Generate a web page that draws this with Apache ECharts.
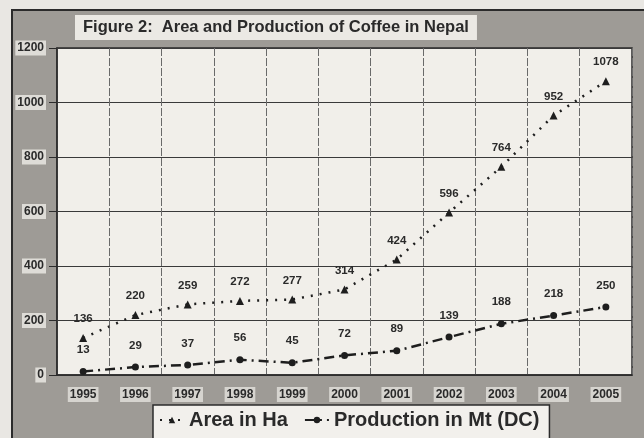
<!DOCTYPE html>
<html>
<head>
<meta charset="utf-8">
<script src="https://cdn.jsdelivr.net/npm/echarts@6/dist/echarts.min.js"></script>
<style>
  html, body { margin: 0; padding: 0; background: #e9e7e3; }
  #chart { width: 644px; height: 438px; }
</style>
</head>
<body>
<div id="chart"></div>
<script>
// years on the x axis
var years = ['1995', '1996', '1997', '1998', '1999', '2000', '2001', '2002', '2003', '2004', '2005'];
// area in hectares
var areaHa = [136, 220, 259, 272, 277, 314, 424, 596, 764, 952, 1078];
// production in metric tons (dry cherry)
var productionMt = [13, 29, 37, 56, 45, 72, 89, 139, 188, 218, 250];

var chart = echarts.init(document.getElementById('chart'));

var boldFont = 'Liberation Sans, Arial, sans-serif';

var option = {
  backgroundColor: '#e9e7e3',
  animation: false,
  graphic: [
    {
      // grey frame round the figure
      type: 'rect',
      z: -10,
      shape: { x: 12, y: 10, width: 640, height: 440 },
      style: { fill: '#9e9b96', stroke: '#2b2b2b', lineWidth: 2 }
    }
  ],
  title: {
    text: 'Figure 2:  Area and Production of Coffee in Nepal',
    left: 75,
    top: 15,
    backgroundColor: '#ebe9e4',
    padding: [4, 8, 4, 8],
    textStyle: {
      fontFamily: boldFont,
      fontSize: 16.5,
      fontWeight: 'bold',
      color: '#2a2a2a'
    }
  },
  legend: {
    left: 153,
    top: 405,
    backgroundColor: '#f2f0ec',
    borderColor: '#2b2b2b',
    borderWidth: 1.5,
    padding: [5, 10, 10, 6],
    itemGap: 16,
    itemWidth: 24,
    itemHeight: 8,
    textStyle: {
      fontFamily: boldFont,
      fontSize: 20,
      fontWeight: 'bold',
      color: '#2a2a2a'
    },
    data: ['Area in Ha', 'Production in Mt (DC)']
  },
  grid: {
    left: 57,
    top: 48,
    right: 12,
    bottom: 63,
    show: true,
    backgroundColor: '#f1efea',
    borderColor: '#2b2b2b',
    borderWidth: 1.5
  },
  xAxis: {
    type: 'category',
    data: years,
    boundaryGap: true,
    axisLine: { lineStyle: { color: '#2b2b2b', width: 1.5 } },
    axisTick: { show: false },
    axisLabel: {
      interval: 0,
      margin: 12,
      fontFamily: boldFont,
      fontSize: 12,
      fontWeight: 'bold',
      color: '#2a2a2a',
      backgroundColor: '#d6d4cf',
      padding: [2, 2, 1, 2]
    },
    splitLine: {
      show: true,
      interval: 0,
      lineStyle: { color: '#6a6a6a', type: [8, 2], width: 1 }
    }
  },
  yAxis: {
    type: 'value',
    min: 0,
    max: 1200,
    interval: 200,
    axisLine: { show: true, lineStyle: { color: '#2b2b2b', width: 1.5 } },
    axisTick: { show: true, length: 8, lineStyle: { color: '#2b2b2b' } },
    axisLabel: {
      margin: 11,
      formatter: function (v) { return String(v); },
      fontFamily: boldFont,
      fontSize: 12,
      fontWeight: 'bold',
      color: '#2a2a2a',
      backgroundColor: '#dedcd7',
      padding: [2, 2, 1, 2]
    },
    splitLine: { lineStyle: { color: '#3a3a3a', width: 1.2 } }
  },
  series: [
    {
      name: 'Area in Ha',
      type: 'line',
      data: areaHa,
      symbol: 'triangle',
      symbolSize: 8,
      itemStyle: { color: '#1e1e1e' },
      lineStyle: { color: '#1e1e1e', width: 2.5, type: [2, 7] },
      label: {
        show: true,
        position: 'top',
        distance: 9,
        fontFamily: boldFont,
        fontSize: 11.5,
        fontWeight: 'bold',
        color: '#2a2a2a'
      }
    },
    {
      name: 'Production in Mt (DC)',
      type: 'line',
      data: productionMt,
      symbol: 'circle',
      symbolSize: 7,
      itemStyle: { color: '#1e1e1e' },
      lineStyle: { color: '#1e1e1e', width: 2.5, type: [10, 5, 2, 5] },
      label: {
        show: true,
        position: 'top',
        distance: 12,
        fontFamily: boldFont,
        fontSize: 11.5,
        fontWeight: 'bold',
        color: '#2a2a2a'
      }
    }
  ]
};

chart.setOption(option);
</script>
</body>
</html>
